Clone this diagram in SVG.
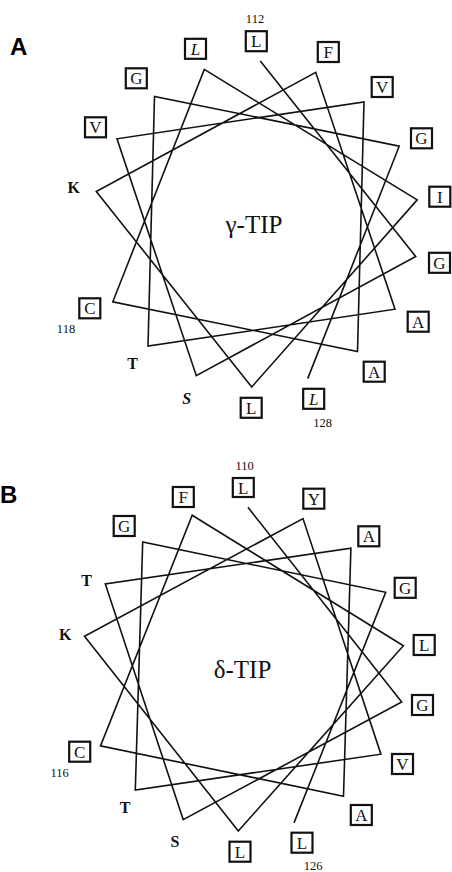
<svg xmlns="http://www.w3.org/2000/svg" width="452" height="872" viewBox="0 0 452 872">
<style>
.bg{fill:#fff}
.helix{fill:none;stroke:#111;stroke-width:1.6;stroke-linejoin:miter}
.box{fill:#fff;stroke:#111;stroke-width:2.2}
.res{font-family:"Liberation Serif","Times New Roman",serif;font-size:17px;fill:#111;text-anchor:middle}
.it{font-style:italic}
.free{font-family:"Liberation Serif","Times New Roman",serif;font-size:16px;font-weight:bold;fill:#111;text-anchor:middle}
.num{font-family:"Liberation Serif","Times New Roman",serif;font-size:12.5px;fill:#111;text-anchor:middle}
.panel{font-family:"Liberation Sans",Arial,sans-serif;font-size:24px;font-weight:bold;fill:#000}
.title{font-family:"Liberation Serif","Times New Roman",serif;font-size:25px;fill:#111;text-anchor:middle}
</style>
<rect class="bg" x="0" y="0" width="452" height="872"/>

<g id="connectors">
<polyline id="helixA" class="helix" points="260.3,61.1 415.7,256.5 196.3,375.7 117,138.8 364,101.9 357.5,351.6 112.8,301.8 204.3,69.4 417.2,199.9 251.7,387 96.3,191.5 315.7,72.3 395,309.2 148,346.1 154.5,96.4 399.2,146.2 307.7,378.6"/>
<polyline id="helixB" class="helix" points="247.9,507.2 401.7,702 183.2,819.6 105.3,584 350.9,548.2 343.5,796.2 100.5,745.9 192.2,515.3 403.4,645.7 238.3,831 84.5,636.2 303,518.6 380.9,754.2 135.3,790 142.7,542 385.7,592.3 294,822.9"/>
</g>

<!-- Panel A -->
<text class="panel" x="10" y="55">A</text>
<g id="titleA"><text class="title" x="254" y="233">γ-TIP</text></g>

<g id="A112"><rect class="box" x="245.8" y="31.2" width="21" height="20"/><text class="res" x="256.3" y="47.2">L</text><text class="num" x="255" y="23.3">112</text></g>
<g id="A123"><rect class="box" x="317.8" y="42" width="21" height="20"/><text class="res" x="328.3" y="58">F</text></g>
<g id="A116"><rect class="box" x="371.7" y="77" width="21" height="20"/><text class="res" x="382.2" y="93">V</text></g>
<g id="A127"><rect class="box" x="411" y="128.3" width="21" height="20"/><text class="res" x="421.5" y="144.3">G</text></g>
<g id="A120"><rect class="box" x="429.3" y="186.7" width="21" height="20"/><text class="res" x="439.8" y="202.7">I</text></g>
<g id="A113"><rect class="box" x="429" y="252.8" width="21" height="20"/><text class="res" x="439.5" y="268.8">G</text></g>
<g id="A124"><rect class="box" x="407.7" y="311.7" width="21" height="20"/><text class="res" x="418.2" y="327.7">A</text></g>
<g id="A117"><rect class="box" x="363.7" y="361.7" width="21" height="20"/><text class="res" x="374.2" y="377.7">A</text></g>
<g id="A128"><rect class="box" x="303.2" y="388.8" width="21" height="20"/><text class="res it" x="313.7" y="404.8">L</text><text class="num" x="322.7" y="427">128</text></g>
<g id="A121"><rect class="box" x="240.7" y="397.8" width="21" height="20"/><text class="res" x="251.2" y="413.8">L</text></g>
<g id="A114"><text class="free it" x="186.7" y="404">S</text></g>
<g id="A125"><text class="free" x="132.5" y="368.5">T</text></g>
<g id="A118"><rect class="box" x="79.3" y="298.3" width="21" height="20"/><text class="res" x="89.8" y="314.3">C</text><text class="num" x="66" y="333">118</text></g>
<g id="A122"><text class="free" x="73.7" y="193.3">K</text></g>
<g id="A115"><rect class="box" x="85" y="117.3" width="21" height="20"/><text class="res" x="95.5" y="133.3">V</text></g>
<g id="A126"><rect class="box" x="125.8" y="68.3" width="21" height="20"/><text class="res" x="136.3" y="84.3">G</text></g>
<g id="A119"><rect class="box" x="185" y="38.8" width="21" height="20"/><text class="res it" x="195.5" y="54.8">L</text></g>

<!-- Panel B -->
<text class="panel" x="0" y="503">B</text>
<g id="titleB"><text class="title" x="242.5" y="678">δ-TIP</text></g>

<g id="B110"><rect class="box" x="232.8" y="478" width="21" height="19"/><text class="res" x="243.3" y="493.5">L</text><text class="num" x="244.7" y="469.5">110</text></g>
<g id="B121"><rect class="box" x="303.3" y="488.7" width="21" height="20"/><text class="res" x="313.8" y="504.7">Y</text></g>
<g id="B114"><rect class="box" x="358.3" y="526.3" width="21" height="20"/><text class="res" x="368.8" y="542.3">A</text></g>
<g id="B125"><rect class="box" x="394.7" y="577.8" width="21" height="20"/><text class="res" x="405.2" y="593.8">G</text></g>
<g id="B118"><rect class="box" x="413.7" y="635" width="21" height="20"/><text class="res" x="424.2" y="651">L</text></g>
<g id="B111"><rect class="box" x="412" y="695" width="21" height="20"/><text class="res" x="422.5" y="711">G</text></g>
<g id="B122"><rect class="box" x="392" y="754" width="21" height="20"/><text class="res" x="402.5" y="770">V</text></g>
<g id="B115"><rect class="box" x="350.8" y="805" width="21" height="20"/><text class="res" x="361.3" y="821">A</text></g>
<g id="B126"><rect class="box" x="291.5" y="832.7" width="21" height="20"/><text class="res" x="302" y="848.7">L</text><text class="num" x="313" y="870">126</text></g>
<g id="B119"><rect class="box" x="229.5" y="841.7" width="21" height="20"/><text class="res" x="240" y="857.7">L</text></g>
<g id="B112"><text class="free" x="175" y="847">S</text></g>
<g id="B123"><text class="free" x="125" y="813">T</text></g>
<g id="B116"><rect class="box" x="69.2" y="741.7" width="21" height="20"/><text class="res" x="79.7" y="757.7">C</text><text class="num" x="59.7" y="777">116</text></g>
<g id="B120"><text class="free" x="65.3" y="639.5">K</text></g>
<g id="B113"><text class="free" x="86.7" y="586">T</text></g>
<g id="B124"><rect class="box" x="113.7" y="516" width="21" height="20"/><text class="res" x="124.2" y="532">G</text></g>
<g id="B117"><rect class="box" x="172.8" y="487" width="21" height="20"/><text class="res" x="183.3" y="503">F</text></g>
</svg>
